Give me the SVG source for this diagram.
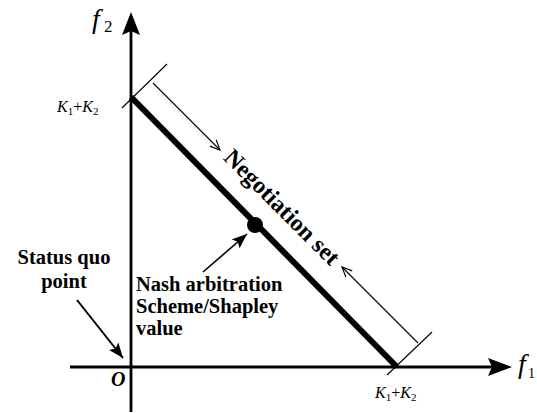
<svg xmlns="http://www.w3.org/2000/svg" width="537" height="413" viewBox="0 0 537 413">
<style>
.serif{font-family:"Liberation Serif","Times New Roman",serif;fill:#000}
.bold{font-weight:bold}
.ital{font-style:italic}
.lbl{font-size:20.5px}
.kk{font-size:16px}
.sub{font-size:11px}
.thin{stroke:#000;stroke-width:1.1;fill:none}
</style>
<defs>
<marker id="open" markerWidth="12" markerHeight="10" refX="10" refY="5" orient="auto" markerUnits="userSpaceOnUse">
<path d="M0,0.5 L10,5 L0,9.5" fill="none" stroke="#000" stroke-width="1.1"/>
</marker>
<marker id="solid" markerWidth="16" markerHeight="12" refX="15" refY="6" orient="auto" markerUnits="userSpaceOnUse">
<path d="M0,0 L15,6 L0,12 L3,6 Z" fill="#000"/>
</marker>
</defs>

<g id="axes">
<line x1="131" y1="30" x2="131" y2="412" stroke="#000" stroke-width="2.8"/>
<path d="M131,12 L140,35 L131,31 L122,35 Z" fill="#000"/>
<line x1="70" y1="367" x2="492" y2="367" stroke="#000" stroke-width="2.8"/>
<path d="M512,367 L488,358 L492,367 L488,376 Z" fill="#000"/>
</g>

<g id="f2-label">
<text class="serif ital" x="92" y="28" font-size="28">f</text>
<text class="serif" x="104" y="32" font-size="17">2</text>
</g>
<g id="f1-label">
<text class="serif ital" x="518" y="373" font-size="28">f</text>
<text class="serif" x="528" y="378" font-size="14">1</text>
</g>

<g id="origin">
<text class="serif bold ital" x="111" y="386" font-size="20">O</text>
</g>

<g id="k-axis-f2">
<text class="serif kk" x="57" y="112"><tspan class="ital">K</tspan><tspan class="sub" dy="3">1</tspan><tspan dy="-3">+</tspan><tspan class="ital">K</tspan><tspan class="sub" dy="3">2</tspan></text>
</g>
<g id="k-axis-f1">
<text class="serif kk" x="375" y="398"><tspan class="ital">K</tspan><tspan class="sub" dy="3">1</tspan><tspan dy="-3">+</tspan><tspan class="ital">K</tspan><tspan class="sub" dy="3">2</tspan></text>
</g>

<g id="negotiation-line">
<line x1="131" y1="97" x2="397" y2="367" stroke="#000" stroke-width="6"/>
<line class="thin" x1="122" y1="108" x2="167" y2="64"/>
<line class="thin" x1="387" y1="375" x2="432" y2="332"/>
</g>

<g id="nash-point">
<circle cx="255" cy="225" r="8" fill="#000"/>
</g>

<g id="negotiation-label">
<text class="serif bold" font-size="24" text-anchor="middle" dominant-baseline="central" transform="translate(282,207) rotate(45)">Negotiation set</text>
</g>

<g id="status-quo-label">
<text class="serif bold lbl" text-anchor="middle" x="64" y="264">Status quo</text>
<text class="serif bold lbl" text-anchor="middle" x="64" y="288">point</text>
</g>

<g id="nash-label">
<text class="serif bold lbl" x="136" y="291">Nash arbitration</text>
<text class="serif bold lbl" x="136" y="313">Scheme/Shapley</text>
<text class="serif bold lbl" x="136" y="335">value</text>
</g>

<g id="connectors">
<line class="thin" x1="153" y1="83" x2="220" y2="150" marker-end="url(#open)"/>
<line class="thin" x1="418" y1="343" x2="342" y2="267" marker-end="url(#open)"/>
<line x1="203" y1="272" x2="247" y2="234" stroke="#000" stroke-width="1.6" marker-end="url(#solid)"/>
<line x1="77" y1="300" x2="123" y2="358" stroke="#000" stroke-width="2" marker-end="url(#solid)"/>
</g>
</svg>
